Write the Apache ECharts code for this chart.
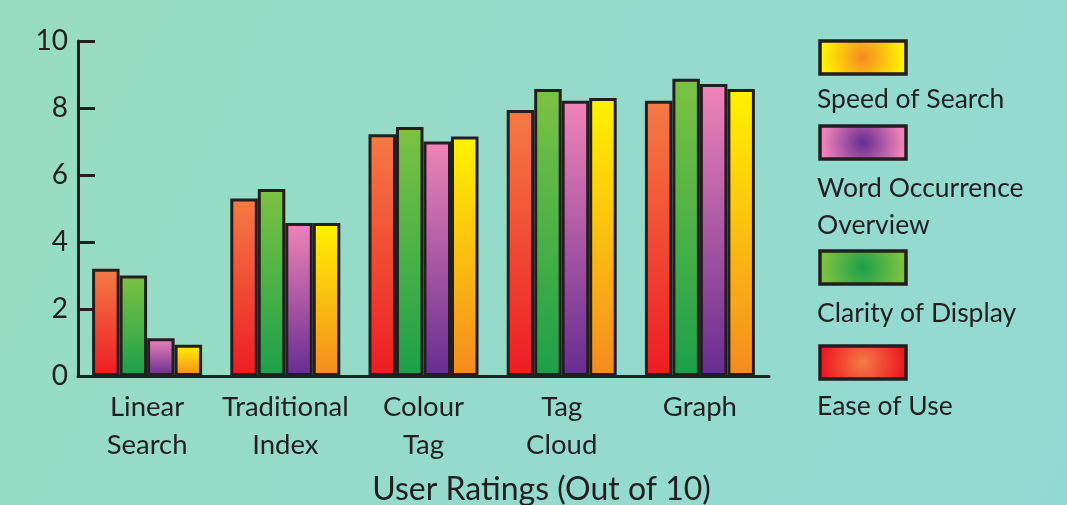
<!DOCTYPE html>
<html>
<head>
<meta charset="utf-8">
<script src="https://cdn.jsdelivr.net/npm/echarts@6/dist/echarts.min.js"></script>
<style>
  html, body { margin: 0; padding: 0; }
  #chart { width: 1067px; height: 505px; }
</style>
</head>
<body>
<div id="chart"></div>
<script>
const categories = ['Linear\nSearch', 'Traditional\nIndex', 'Colour\nTag', 'Tag\nCloud', 'Graph']
const seriesNames = ['Ease of Use', 'Clarity of Display', 'Word Occurrence Overview', 'Speed of Search']
const easeOfUse = [3.2, 5.3, 7.22, 7.94, 8.22]
const clarityOfDisplay = [3.0, 5.58, 7.43, 8.57, 8.87]
const wordOccurrence = [1.13, 4.57, 7.0, 8.22, 8.72]
const speedOfSearch = [0.93, 4.57, 7.15, 8.3, 8.57]
const yTicks = [0, 2, 4, 6, 8, 10]

const FONT = "Lato, 'Open Sans', sans-serif"
const INK = '#231f20'

// top / bottom colours of each bar gradient
const palette = [
  { top: '#f47b44', bottom: '#ed1c24' },
  { top: '#7cc242', bottom: '#1ca04a' },
  { top: '#f084b8', bottom: '#662d91' },
  { top: '#fff200', bottom: '#f58a1f' }
]

function barGradient(p) {
  return new echarts.graphic.LinearGradient(0, 0, 0, 1, [
    { offset: 0, color: p.top },
    { offset: 1, color: p.bottom }
  ])
}

function legendGradient(p, i) {
  // legend swatches: radial, dark colour in the middle
  const inner = i === 0 ? p.top : p.bottom
  const outer = i === 0 ? p.bottom : p.top
  return new echarts.graphic.RadialGradient(0.5, 0.5, 1.1, [
    { offset: 0, color: inner },
    { offset: 1, color: outer }
  ])
}

const chart = echarts.init(document.getElementById('chart'))

const values = [easeOfUse, clarityOfDisplay, wordOccurrence, speedOfSearch]

// legend drawn top to bottom in reverse series order
const legendLabels = ['Speed of Search', 'Word Occurrence\nOverview', 'Clarity of Display', 'Ease of Use']
const legendBoxY = [41, 126, 251, 346]
const legendTextY = [99, 207, 313, 406]
const legendGraphics = []
legendLabels.forEach((label, k) => {
  const idx = 3 - k
  legendGraphics.push({
    type: 'rect',
    x: 820, y: legendBoxY[k],
    shape: { width: 86, height: 33 },
    style: { fill: legendGradient(palette[idx], idx), stroke: INK, lineWidth: 3.5 }
  })
  legendGraphics.push({
    type: 'text',
    x: 817, y: legendTextY[k],
    style: {
      text: label,
      font: '26.5px ' + FONT,
      fill: INK,
      lineHeight: 37,
      textAlign: 'left',
      textVerticalAlign: 'middle'
    }
  })
})

const option = {
  animation: false,
  backgroundColor: new echarts.graphic.LinearGradient(0, 0, 1, 1, [
    { offset: 0, color: '#97dcc1' },
    { offset: 1, color: '#93d9d3' }
  ]),
  grid: { left: 78, right: 298, top: 41, bottom: 129, containLabel: false, outerBoundsMode: 'none' },
  xAxis: {
    type: 'category',
    data: categories,
    name: 'User Ratings (Out of 10)',
    nameLocation: 'middle',
    nameGap: 98,
    // title sits right of the axis centre in the original
    nameTextStyle: { fontFamily: FONT, fontSize: 32, color: INK, padding: [0, 0, 0, 236] },
    axisLine: { lineStyle: { color: INK, width: 3 } },
    axisTick: { inside: true, length: 7, lineStyle: { color: INK, width: 3 } },
    axisLabel: {
      fontFamily: FONT, fontSize: 27.5, color: INK,
      lineHeight: 38, margin: 12, interval: 0
    }
  },
  yAxis: {
    type: 'value',
    min: yTicks[0],
    max: yTicks[yTicks.length - 1],
    interval: 2,
    splitLine: { show: false },
    axisLine: { show: true, lineStyle: { color: INK, width: 3 } },
    axisTick: { show: true, inside: true, length: 17, lineStyle: { color: INK, width: 3 } },
    axisLabel: { fontFamily: FONT, fontSize: 28, color: INK, margin: 10 }
  },
  series: seriesNames.map((name, i) => ({
    name,
    type: 'bar',
    data: values[i],
    barWidth: 27.5,
    barGap: '0%',
    itemStyle: {
      color: barGradient(palette[i]),
      borderColor: INK,
      borderWidth: 3
    }
  })),
  graphic: legendGraphics
}

chart.setOption(option)
window.addEventListener('resize', () => chart.resize())
</script>
</body>
</html>
